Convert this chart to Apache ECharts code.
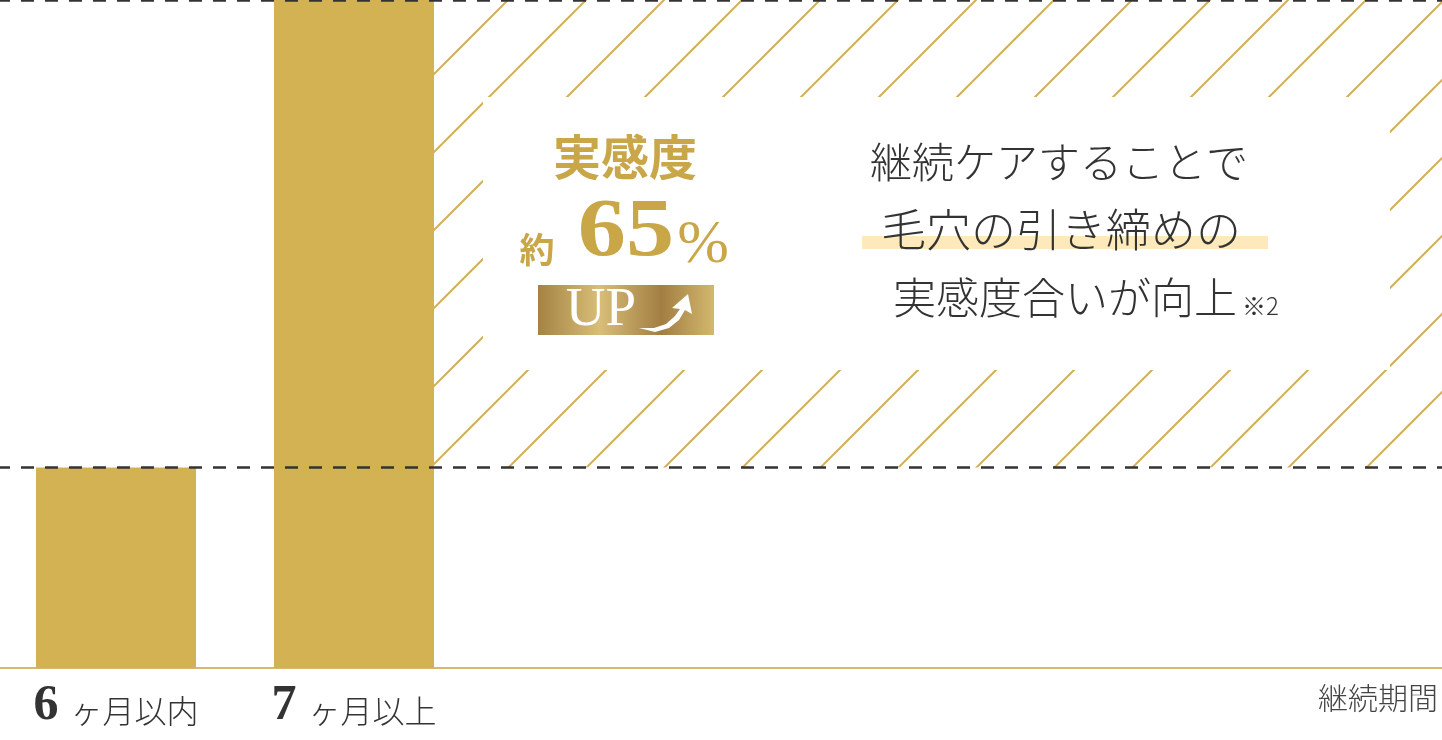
<!DOCTYPE html>
<html>
<head>
<meta charset="utf-8">
<script src="https://cdn.jsdelivr.net/npm/echarts@6/dist/echarts.min.js"></script>
<style>
  html, body { margin: 0; padding: 0; background: #fff; overflow: hidden; }
  #main { width: 1442px; height: 740px; }
</style>
</head>
<body>
<div id="main"></div>
<script>
// 継続期間ごとの実感度
const categories = ['6ヶ月以内', '7ヶ月以上', '', '', '', '', ''];
const values = [30, 100];
const refLines = [30, 100];

const GOLD = '#d3b254';
const BAR_W = 160;
const SERIF = '"Liberation Serif", "Noto Sans CJK JP", serif';
const JP = '"Noto Sans CJK JP", sans-serif';

// 斜線パターン
function hatch() {
    const s = 78;
    const c = document.createElement('canvas');
    c.width = s; c.height = s;
    const ctx = c.getContext('2d');
    ctx.strokeStyle = '#d4af55';
    ctx.lineWidth = 2;
    ctx.beginPath();
    ctx.moveTo(-10, 50); ctx.lineTo(50, -10);
    ctx.moveTo(28, 90); ctx.lineTo(90, 28);
    ctx.stroke();
    return c;
}
const hatchPattern = { image: hatch(), repeat: 'repeat' };

function txt(text, x, y, font, fill, align, valign, extra) {
    return Object.assign({
        type: 'text', z: 12, x: x, y: y,
        style: { text: text, font: font, fill: fill, align: align, verticalAlign: valign, textAlign: align, textVerticalAlign: valign }
    }, extra || {});
}

const chart = echarts.init(document.getElementById('main'));
const option = {
    animation: false,
    grid: { left: -3, right: -221, top: 0, bottom: 72, outerBoundsMode: 'none', containLabel: false },
    xAxis: {
        type: 'category',
        data: categories,
        axisTick: { show: false },
        axisLine: { lineStyle: { color: '#d6b86e', width: 2 } },
        axisLabel: {
            margin: 13,
            interval: 0,
            formatter: v => v ? '{n|' + v[0] + '}{s| }{u|' + v.slice(1) + '}' : '',
            rich: {
                n: { fontFamily: SERIF, fontSize: 50, fontWeight: 'bold', color: '#333', verticalAlign: 'bottom' },
                s: { fontSize: 12, width: 12 },
                u: { fontFamily: JP, fontSize: 32, fontWeight: 300, color: '#333', verticalAlign: 'bottom', padding: [0, 0, 4, 0] }
            }
        }
    },
    yAxis: { type: 'value', min: 0, max: 100, show: false, splitLine: { show: false } },
    series: [
        {
            // 7ヶ月以上の右側の斜線エリア
            type: 'custom',
            z: 1,
            silent: true,
            encode: { x: 0, y: [1, 2] },
            data: [[1, refLines[0], refLines[1]]],
            renderItem: (params, api) => {
                const bottom = api.coord([api.value(0), api.value(1)]);
                const top = api.coord([api.value(0), api.value(2)]);
                const x0 = bottom[0] + BAR_W / 2;
                const cs = params.coordSys;
                return {
                    type: 'rect',
                    shape: { x: x0, y: top[1], width: cs.x + cs.width - x0, height: bottom[1] - top[1] },
                    style: { fill: hatchPattern }
                };
            }
        },
        {
            type: 'bar',
            z: 2,
            data: values,
            barWidth: BAR_W,
            itemStyle: { color: GOLD },
            markLine: {
                silent: true,
                symbol: 'none',
                label: { show: false },
                lineStyle: { color: '#333', type: [13, 11], width: 2.5 },
                data: refLines.map(v => ({ yAxis: v }))
            }
        }
    ],
    graphic: [
        { type: 'rect', z: 10, shape: { x: 483, y: 97, width: 907, height: 273 }, style: { fill: '#fff' } },
        txt('実感度', 625, 157, 'bold 48px ' + JP, '#c9a648', 'center', 'middle'),
        txt('約', 537, 250, 'bold 35px ' + JP, '#c9a648', 'center', 'middle'),
        txt('65', 626, 275, 'bold 83px ' + SERIF, '#c9a648', 'center', 'bottom', { scaleX: 1.16 }),
        txt('%', 703, 277, '62px ' + SERIF, '#c9a648', 'center', 'bottom'),
        {
            type: 'rect', z: 11, shape: { x: 538, y: 285, width: 176, height: 50 },
            style: {
                fill: {
                    type: 'linear', x: 0, y: 0, x2: 1, y2: 0,
                    colorStops: [
                        { offset: 0, color: '#a58343' }, { offset: 0.35, color: '#d8be78' },
                        { offset: 0.7, color: '#a27e42' }, { offset: 1, color: '#d3b86e' }
                    ]
                }
            }
        },
        txt('UP', 601, 311, '55px ' + SERIF, '#fff', 'center', 'middle'),
        {
            type: 'polygon', z: 12,
            shape: { points: [[639, 328], [654, 328], [666, 324], [675, 316], [680, 309], [672, 308], [688, 294], [692, 314], [685, 310], [679, 320], [669, 328], [655, 332]] },
            style: { fill: '#fff' }
        },
        { type: 'rect', z: 11, shape: { x: 862, y: 236, width: 406, height: 13 }, style: { fill: '#fde9ba' } },
        txt('継続ケアすることで', 870, 162, '300 42px ' + JP, '#333', 'left', 'middle'),
        txt('毛穴の引き締めの', 881, 230, '300 45px ' + JP, '#333', 'left', 'middle'),
        txt('実感度合いが向上', 893, 298, '300 43px ' + JP, '#333', 'left', 'middle'),
        txt('※2', 1242, 306, '300 24px ' + JP, '#333', 'left', 'middle'),
        txt('継続期間', 1438, 698, '300 30px ' + JP, '#444', 'right', 'middle')
    ]
};
option && chart.setOption(option);
</script>
</body>
</html>
